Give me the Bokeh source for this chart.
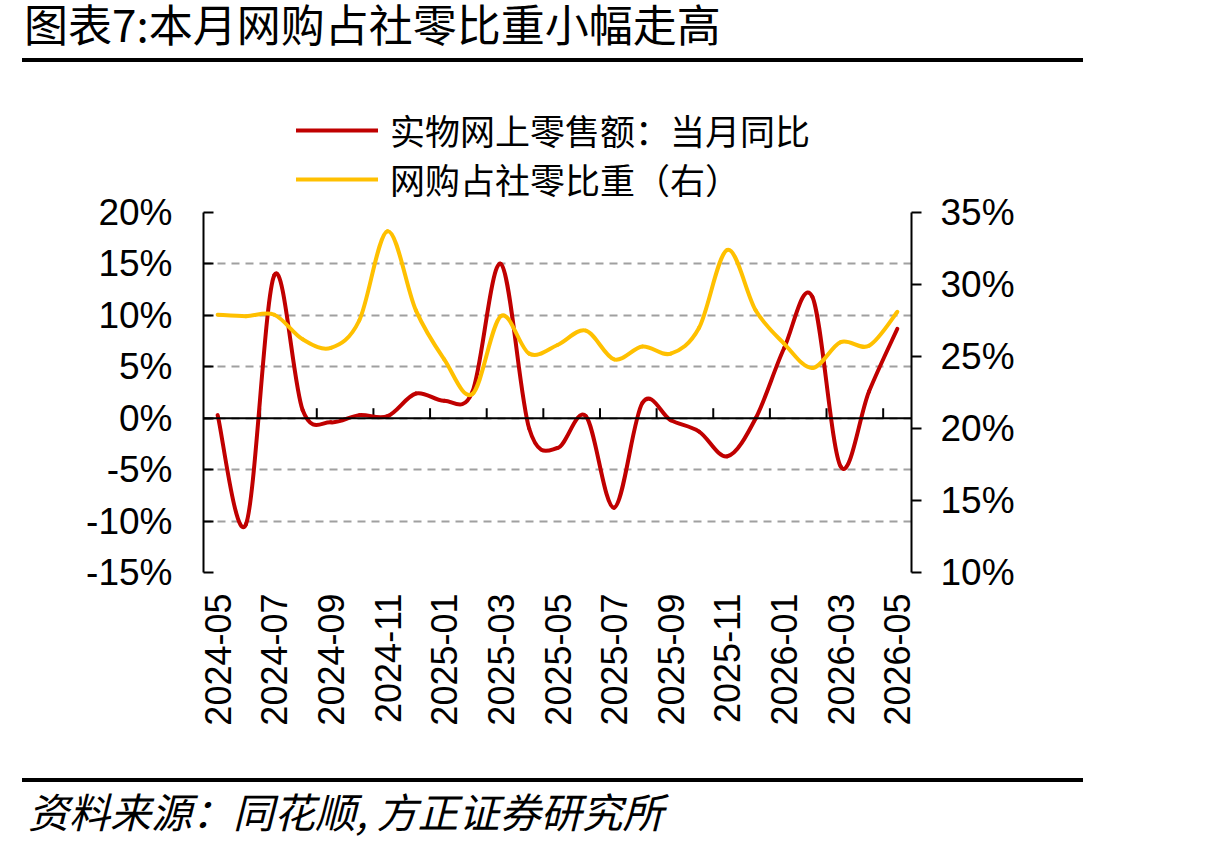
import math
import numpy as np
from bokeh.plotting import figure
from bokeh.models import (Range1d, LinearAxis, FixedTicker, PrintfTickFormatter,
                          Legend, LegendItem, Div, Span)
from bokeh.layouts import column
from bokeh.embed import file_html
from bokeh.resources import INLINE

# Monthly categories
months = ["2024-05", "2024-06", "2024-07", "2024-08", "2024-09", "2024-10", "2024-11",
          "2024-12", "2025-01", "2025-02", "2025-03", "2025-04", "2025-05", "2025-06",
          "2025-07", "2025-08", "2025-09", "2025-10", "2025-11", "2025-12", "2026-01",
          "2026-02", "2026-03", "2026-04", "2026-05"]

# 实物网上零售额：当月同比 (%, left axis)
online_yoy = [0.3, -10.3, 13.9, 0.8, -0.4, 0.3, 0.2, 2.4, 1.7, 2.6, 15.0, -1.0, -2.9,
              0.2, -8.7, 1.5, -0.2, -1.3, -3.7, 0.0, 6.8, 11.8, -4.7, 2.6, 8.7]

# 网购占社零比重 (%, right axis)
online_share = [27.9, 27.8, 27.9, 26.2, 25.6, 27.5, 33.7, 28.2, 24.8, 22.4, 27.8, 25.2,
                25.8, 26.8, 24.8, 25.7, 25.2, 27.0, 32.4, 28.2, 25.9, 24.2, 26.0, 25.75,
                28.1]

series_names = ["实物网上零售额：当月同比", "网购占社零比重（右）"]
series_colors = ["#C00000", "#FFC000"]

left_ticks = [-15, -10, -5, 0, 5, 10, 15, 20]
right_ticks = [10, 15, 20, 25, 30, 35]

label_font = "Liberation Sans"
cjk_font = "Noto Sans CJK SC"

FRAME_H = 360  # plot area height in px
TICK_PX = 10   # length of the category-boundary ticks on the zero line
OVERLAP = 20   # legend strip and chart canvases overlap by this many px


def smooth_segments(ys):
    """Bezier control points (Catmull-Rom style) through each data point."""
    x = np.arange(len(ys), dtype=float)
    y = np.asarray(ys, dtype=float)
    xp = np.concatenate([[x[0]], x, [x[-1]]])
    yp = np.concatenate([[y[0]], y, [y[-1]]])
    n = len(y)
    return dict(
        x0=x[:-1], y0=y[:-1], x1=x[1:], y1=y[1:],
        cx0=x[:-1] + (xp[2:n + 1] - xp[0:n - 1]) / 6.0,
        cy0=y[:-1] + (yp[2:n + 1] - yp[0:n - 1]) / 6.0,
        cx1=x[1:] - (xp[3:n + 2] - xp[1:n]) / 6.0,
        cy1=y[1:] - (yp[3:n + 2] - yp[1:n]) / 6.0,
    )


# ---- legend strip above the plot (its frame lines up with the chart's frame) ----
lg = figure(width=1221, height=142, x_range=Range1d(0, 1), y_range=Range1d(0, 1),
            x_axis_location=None, y_axis_location=None,
            output_backend="svg", toolbar_location=None,
            min_border_left=203, min_border_right=310, min_border_top=0, min_border_bottom=0)
lg.outline_line_color = None
lg.grid.visible = False
# swatch renderers kept outside the visible range; only their legend glyphs show
swatches = [lg.line(x=[-3, -2], y=[-3, -3], line_color=c, line_width=4, line_cap="round")
            for c in series_colors]
legend_rows = [(93, 51), (93, 2)]
for name, rend, loc in zip(series_names, swatches, legend_rows):
    lg.add_layout(Legend(items=[LegendItem(label=name, renderers=[rend])],
                         location=loc, orientation="vertical",
                         label_text_font=cjk_font, label_text_font_size="35px",
                         label_text_color="black",
                         glyph_width=82, glyph_height=50, label_height=50,
                         label_standoff=12, spacing=0, padding=0, margin=0,
                         border_line_color=None, background_fill_alpha=0))

# ---- main chart (transparent canvas so the strip above stays visible) ----
p = figure(width=1221, height=584,
           x_range=Range1d(-0.5, len(months) - 0.5),
           y_range=Range1d(left_ticks[0], left_ticks[-1]),
           output_backend="svg", toolbar_location=None,
           min_border_left=203, min_border_right=310,
           min_border_top=26, min_border_bottom=198,
           margin=(-OVERLAP, 0, 0, 0))
p.outline_line_color = None
p.border_fill_color = None
p.background_fill_color = None
p.extra_y_ranges = {"share": Range1d(right_ticks[0], right_ticks[-1])}

# bottom axis: month labels only
xa = p.xaxis[0]
xa.ticker = FixedTicker(ticks=list(range(0, len(months), 2)))
xa.major_label_overrides = {i: m for i, m in enumerate(months)}
xa.major_label_orientation = math.pi / 2
xa.axis_line_color = None
xa.major_tick_line_color = None
xa.minor_tick_line_color = None
xa.major_label_text_font = label_font
xa.major_label_text_font_size = "36px"
xa.major_label_text_color = "black"
xa.major_label_standoff = 15

# left axis
ya = p.yaxis[0]
ya.ticker = FixedTicker(ticks=left_ticks)
ya.formatter = PrintfTickFormatter(format="%d%%")
ya.major_tick_in = 10
ya.major_tick_out = 0
ya.major_tick_line_width = 2
ya.minor_tick_line_color = None
ya.axis_line_width = 2
ya.axis_line_color = "black"
ya.major_label_text_font = label_font
ya.major_label_text_font_size = "37px"
ya.major_label_text_color = "black"
ya.major_label_standoff = 31

# right axis
ra = LinearAxis(y_range_name="share", ticker=FixedTicker(ticks=right_ticks),
                formatter=PrintfTickFormatter(format="%d%%"),
                major_tick_in=0, major_tick_out=10, major_tick_line_width=2,
                minor_tick_line_color=None, axis_line_width=2, axis_line_color="black",
                major_label_text_font=label_font, major_label_text_font_size="37px",
                major_label_text_color="black", major_label_standoff=19)
p.add_layout(ra, "right")

p.xgrid.visible = False
p.ygrid.grid_line_color = "#A0A0A0"
p.ygrid.grid_line_width = 2
p.ygrid.grid_line_dash = "8 6"

# zero line with ticks at every second category boundary
p.add_layout(Span(location=0, dimension="width", line_color="black", line_width=2))
tick_x = [i + 1.5 for i in range(0, len(months) - 1, 2)]
tick_len = TICK_PX * (left_ticks[-1] - left_ticks[0]) / FRAME_H
p.segment(x0=tick_x, y0=[0] * len(tick_x), x1=tick_x, y1=[tick_len] * len(tick_x),
          line_color="black", line_width=2)

p.bezier(**smooth_segments(online_yoy), line_color=series_colors[0], line_width=4,
         line_cap="round")
p.bezier(**smooth_segments(online_share), line_color=series_colors[1], line_width=4,
         line_cap="round", y_range_name="share")

title_div = Div(width=1221, height=64, margin=0, text=(
    '<div style="position:relative;width:1221px;height:64px;">'
    '<div style="position:absolute;left:24px;top:0px;white-space:nowrap;'
    "font-family:'Noto Sans CJK SC';font-size:44px;line-height:46px;color:#000;\">"
    '图表7:本月网购占社零比重小幅走高</div>'
    '<div style="position:absolute;left:22px;top:58px;width:1061px;height:4px;'
    'background:#000;"></div></div>'))

footer_div = Div(width=1221, height=80, margin=0, text=(
    '<div style="position:relative;width:1221px;height:80px;">'
    '<div style="position:absolute;left:22px;top:8px;width:1061px;height:4px;'
    'background:#000;"></div>'
    '<div style="position:absolute;left:28px;top:17px;white-space:nowrap;'
    "font-family:'Noto Sans CJK SC';font-size:41px;line-height:46px;"
    'font-style:italic;color:#000;">资料来源：同花顺, 方正证券研究所</div></div>'))

layout = column(title_div, lg, p, footer_div, spacing=0)
open("out.html", "w").write(file_html(layout, INLINE))
